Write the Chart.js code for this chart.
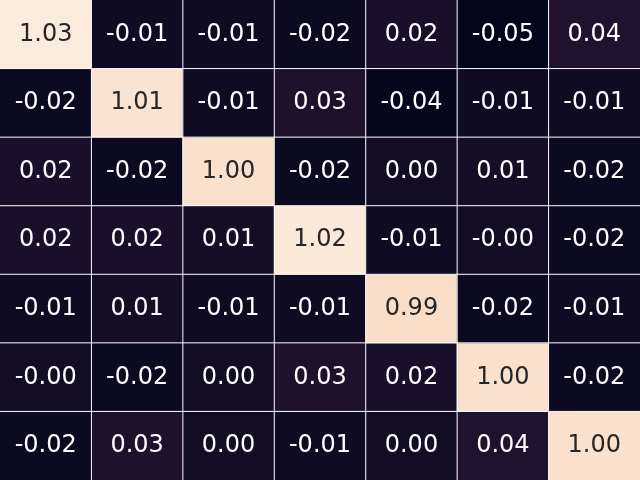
<!DOCTYPE html>
<html><head><meta charset="utf-8">
<script src="https://cdn.jsdelivr.net/npm/chart.js@4/dist/chart.umd.min.js"></script>
<style>html,body{margin:0;padding:0;background:#fff}#wrap{width:640px;height:480px;position:relative}</style>
</head><body><div id="wrap"><canvas id="c"></canvas></div>
<script>
const columns = ['0', '1', '2', '3', '4', '5', '6'];
const row0 = [1.03, -0.01, -0.01, -0.02, 0.02, -0.05, 0.04];
const row1 = [-0.02, 1.01, -0.01, 0.03, -0.04, -0.01, -0.01];
const row2 = [0.02, -0.02, 1.00, -0.02, 0.00, 0.01, -0.02];
const row3 = [0.02, 0.02, 0.01, 1.02, -0.01, -0.001, -0.02];
const row4 = [-0.01, 0.01, -0.01, -0.01, 0.99, -0.02, -0.01];
const row5 = [-0.001, -0.02, 0.00, 0.03, 0.02, 1.00, -0.02];
const row6 = [-0.02, 0.03, 0.00, -0.01, 0.00, 0.04, 1.00];
const rows = [row0, row1, row2, row3, row4, row5, row6];

// rocket colormap (approximate stops)
const rocketStops = [
  [0.000, [3, 5, 26]],
  [0.043, [17, 12, 36]],
  [0.082, [32, 18, 46]],
  [0.143, [53, 25, 62]],
  [0.286, [112, 31, 87]],
  [0.429, [173, 23, 89]],
  [0.571, [225, 51, 66]],
  [0.714, [243, 118, 81]],
  [0.857, [246, 180, 143]],
  [0.930, [247, 209, 184]],
  [1.000, [250, 235, 221]]
];
function rocket(t) {
  t = Math.max(0, Math.min(1, t));
  for (let i = 1; i < rocketStops.length; i++) {
    const [p1, c1] = rocketStops[i];
    const [p0, c0] = rocketStops[i - 1];
    if (t <= p1) {
      const f = (t - p0) / (p1 - p0);
      return c0.map((v, k) => Math.round(v + (c1[k] - v) * f));
    }
  }
  return rocketStops[rocketStops.length - 1][1];
}
const allVals = rows.flat();
const vmin = Math.min(...allVals), vmax = Math.max(...allVals);
const cellRGB = v => rocket((v - vmin) / (vmax - vmin));

const datasets = rows.map((r, i) => ({
  label: 'row' + i,
  data: r.map(() => 1),
  values: r,
  backgroundColor: r.map(v => 'rgb(' + cellRGB(v).join(',') + ')'),
  borderWidth: 0,
  barPercentage: 1,
  categoryPercentage: 1
}));

const FONT_SIZE = 24;
const heatPlugin = {
  id: 'heat',
  afterDatasetsDraw(chart) {
    const ctx = chart.ctx;
    const area = chart.chartArea;
    ctx.save();
    // grid lines between cells
    ctx.strokeStyle = '#ffffff';
    ctx.lineWidth = 1;
    const m0 = chart.getDatasetMeta(0);
    m0.data.forEach((el, j) => {
      if (j === 0) return;
      const x = el.x - el.width / 2;
      ctx.beginPath(); ctx.moveTo(x, area.top); ctx.lineTo(x, area.bottom); ctx.stroke();
    });
    chart.data.datasets.forEach((ds, i) => {
      if (i === 0) return;
      const el = chart.getDatasetMeta(i).data[0];
      const y = Math.min(el.y, el.base);
      ctx.beginPath(); ctx.moveTo(area.left, y); ctx.lineTo(area.right, y); ctx.stroke();
    });
    // annotations
    ctx.font = FONT_SIZE + 'px "DejaVu Sans"';
    ctx.textAlign = 'center';
    ctx.textBaseline = 'alphabetic';
    chart.data.datasets.forEach((ds, i) => {
      const meta = chart.getDatasetMeta(i);
      meta.data.forEach((el, j) => {
        const v = ds.values[j];
        const c = cellRGB(v);
        const lum = (0.2126 * c[0] + 0.7152 * c[1] + 0.0722 * c[2]) / 255;
        ctx.fillStyle = lum > 0.408 ? '#262626' : '#ffffff';
        const cy = (el.y + el.base) / 2;
        ctx.fillText(v.toFixed(2), el.x, cy - 2.3 + 0.3645 * FONT_SIZE);
      });
    });
    ctx.restore();
  }
};

new Chart(document.getElementById('c'), {
  type: 'bar',
  data: { labels: columns, datasets },
  options: {
    responsive: true,
    maintainAspectRatio: false,
    animation: false,
    layout: { padding: 0 },
    plugins: { legend: { display: false }, tooltip: { enabled: false } },
    scales: {
      x: { display: false, stacked: true },
      y: { display: false, stacked: true, min: 0, max: rows.length, reverse: true }
    }
  },
  plugins: [heatPlugin]
});
</script>
</body></html>
